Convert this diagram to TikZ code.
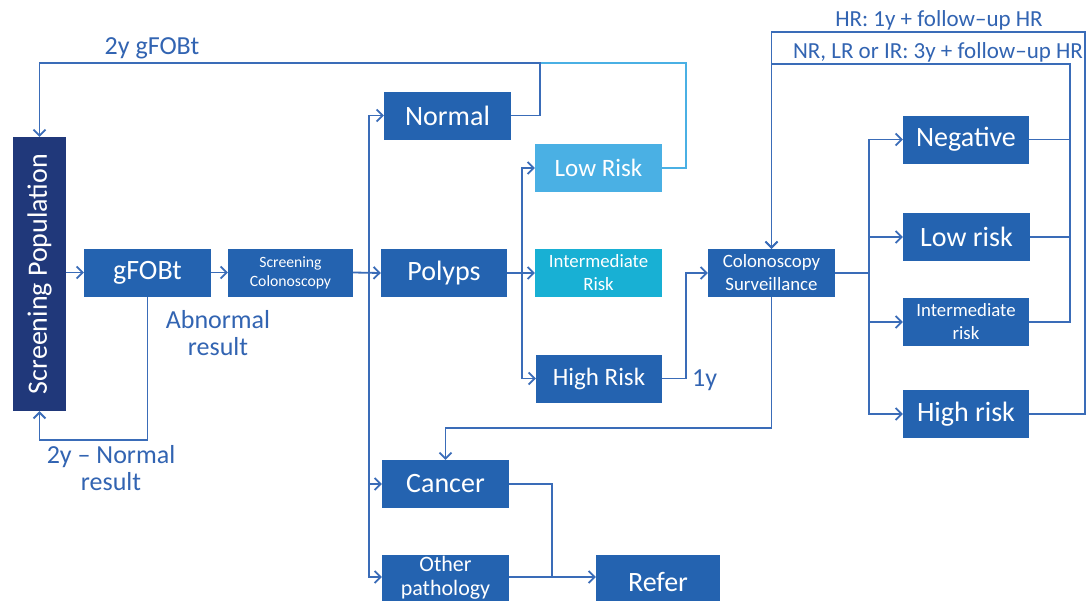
\documentclass[tikz,border=0pt]{standalone}
\usepackage{fontspec}
\setmainfont{Carlito}
\usetikzlibrary{arrows.meta}
\definecolor{boxblue}{RGB}{36,99,176}
\definecolor{navy}{RGB}{32,56,122}
\definecolor{lightb}{RGB}{74,176,228}
\definecolor{cyanb}{RGB}{24,176,212}
\definecolor{lineblue}{RGB}{58,108,184}
\definecolor{txtblue}{RGB}{50,100,178}
\newcommand{\myfs}[2]{\fontsize{#1}{#2}\selectfont}
\begin{document}
\begin{tikzpicture}[x=1pt,y=-1pt,
  box/.style={rectangle, fill=boxblue, text=white, inner sep=0pt, align=center, minimum width=127pt, minimum height=48pt},
  big/.style={font=\myfs{28}{30}},
  mid/.style={font=\myfs{25}{27}},
  small/.style={font=\myfs{18.8}{23}},
  conn/.style={draw=lineblue, line width=1.8pt},
  arr/.style={conn, -{Straight Barb[length=6pt,width=12pt]}},
  lbl/.style={text=txtblue, align=center, inner sep=0pt}]
\clip (0,0) rectangle (1090,600);
\fill[white] (0,0) rectangle (1090,600);
% helper coordinates
\coordinate (c32) at (0,32);
\coordinate (c63) at (0,63);
\coordinate (c64) at (0,64);
\coordinate (c428) at (0,428);
\coordinate (c440) at (0,440);
\coordinate (c577) at (0,577);
\coordinate (tr) at (369,0);
\coordinate (pb) at (522,0);
\coordinate (hb) at (686,0);
\coordinate (nb) at (540,0);
\coordinate (cb) at (869,0);
\coordinate (rb) at (1070,0);
\coordinate (rb2) at (1085,0);
\coordinate (cr) at (552,0);
% boxes
\node[box, fill=navy, minimum width=53pt, minimum height=274pt, big] (scr) at (39.5,274) {\rotatebox{90}{Screening Population}};
\node[box,big] (gfobt) at (147.5,272.5) {gFOBt};
\node[box, font=\myfs{15.7}{19}, minimum width=125pt] (scol) at (290.5,272.5) {Screening\\Colonoscopy};
\node[box,big] (normal) at (447.5,115.5) {Normal};
\node[box,mid,fill=lightb] (lowrisk) at (598.5,168) {Low Risk};
\node[box,big,minimum width=126pt] (polyps) at (444,273) {Polyps};
\node[box,small,fill=cyanb] (intrisk) at (598.5,273) {Intermediate\\Risk};
\node[box,mid,minimum width=126pt] (highrisk) at (599,378.5) {High Risk};
\node[box,big] (cancer) at (445.5,484) {Cancer};
\node[box,font=\myfs{22}{24},minimum height=54pt,text depth=13pt] (other) at (445.5,582) {Other\\pathology};
\node[box,big,minimum width=124pt,minimum height=54pt] (refer) at (658,582) {Refer};
\node[box,small] (csurv) at (771.5,273) {Colonoscopy\\Surveillance};
\node[box,big,minimum width=126pt] (neg) at (966,139.5) {Negative};
\node[box,big] (lr2) at (966.5,237) {Low risk};
\node[box,small,minimum width=126pt] (ir2) at (966,322) {Intermediate\\risk};
\node[box,big,minimum width=126pt] (hr2) at (966,414) {High risk};
% labels
\node[lbl,font=\myfs{26}{28}] (l2y) at (152,48) {2y gFOBt};
\node[lbl,font=\myfs{26}{27}] (labn) at (218,333.5) {Abnormal\\result};
\node[lbl,font=\myfs{26}{27}] (lnorm) at (111,468.5) {2y – Normal\\result};
\node[lbl,font=\myfs{26}{28},anchor=west] (l1y) at (692,380) {1y};
\node[lbl,font=\myfs{23}{25}] (lhr) at (939,20) {HR: 1y + follow–up HR};
\node[lbl,font=\myfs{23}{25}] (lnr) at (938,52) {NR, LR or IR: 3y + follow–up HR};
% connectors
\draw[arr] (scr.east |- gfobt.west) -- (gfobt.west);
\draw[arr] (gfobt.east) -- (scol.west);
\draw[arr] (scol.east) -- (polyps.west);
\draw[arr] (tr |- c577) -- (tr |- normal.west) -- (normal.west);
\draw[arr] (tr |- normal.west) -- (tr |- c577) -- (other.west |- c577);
\draw[arr] (tr |- cancer.west) -- (cancer.west);
\draw[arr] (polyps.east) -- (intrisk.west);
\draw[arr] (pb |- highrisk.west) -- (pb |- lowrisk.west) -- (lowrisk.west);
\draw[arr] (pb |- lowrisk.west) -- (pb |- highrisk.west) -- (highrisk.west);
\draw[arr] (highrisk.east) -- (hb |- highrisk.east) -- (hb |- csurv.west) -- (csurv.west);
\draw[conn, draw=lightb] (lowrisk.east) -- (hb |- lowrisk.east) -- (hb |- c63) -- (nb |- c63);
\draw[arr] (normal.east) -- (nb |- normal.east) -- (nb |- c63) -- (scr.north |- c63) -- (scr.north);
\draw[arr] (gfobt.south) -- (gfobt.south |- c440) -- (scr.south |- c440) -- (scr.south);
\draw[conn] (csurv.east) -- (cb |- csurv.east);
\draw[arr] (cb |- hr2.west) -- (cb |- neg.west) -- (neg.west);
\draw[arr] (cb |- neg.west) -- (cb |- hr2.west) -- (hr2.west);
\draw[arr] (cb |- lr2.west) -- (lr2.west);
\draw[arr] (cb |- ir2.west) -- (ir2.west);
\draw[conn] (neg.east) -- (rb |- neg.east);
\draw[conn] (lr2.east) -- (rb |- lr2.east);
\draw[arr] (ir2.east) -- (rb |- ir2.east) -- (rb |- c64) -- (csurv.north |- c64) -- (csurv.north);
\draw[arr] (hr2.east) -- (rb2 |- hr2.east) -- (rb2 |- c32) -- (csurv.north |- c32) -- (csurv.north);
\draw[arr] (csurv.south) -- (csurv.south |- c428) -- (cancer.north |- c428) -- (cancer.north);
\draw[conn] (cancer.east) -- (cr |- cancer.east) -- (cr |- c577);
\draw[arr] (other.east |- c577) -- (refer.west |- c577);
\end{tikzpicture}
\end{document}
